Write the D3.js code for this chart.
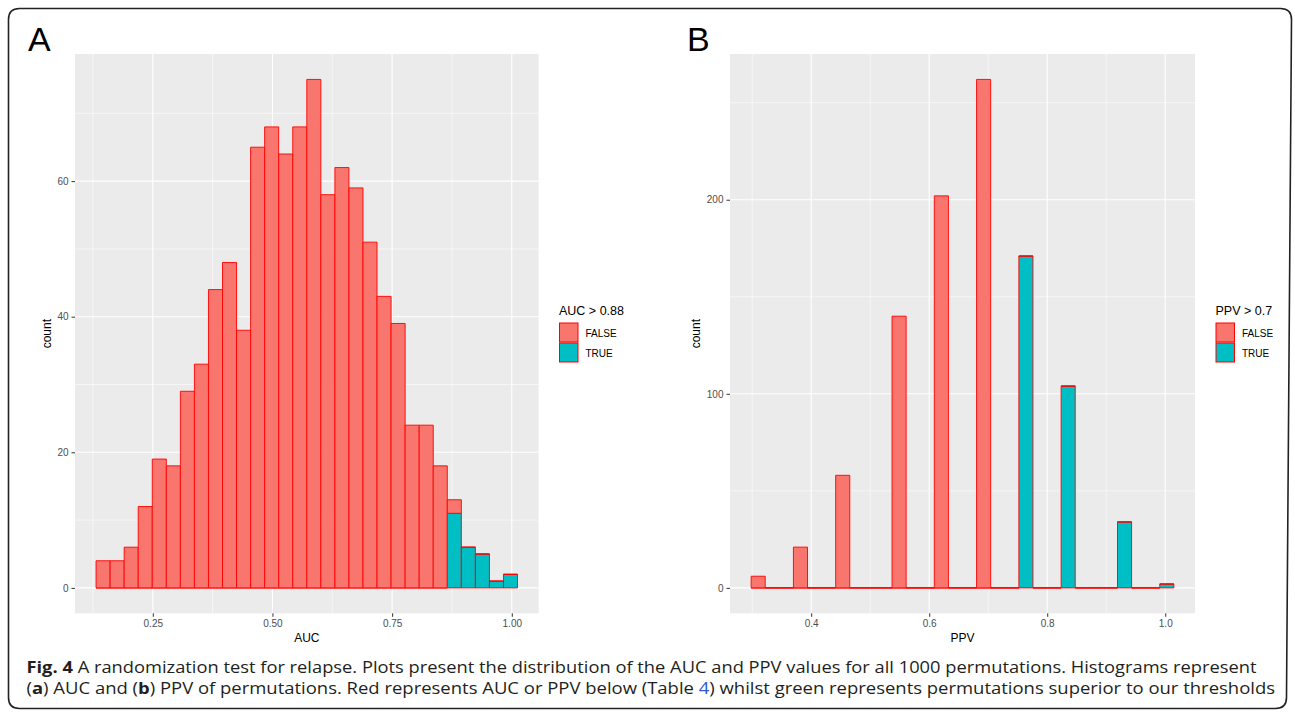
<!DOCTYPE html>
<html><head><meta charset="utf-8">
<script src="https://cdn.jsdelivr.net/npm/d3@7"></script>
<style>
html,body{margin:0;padding:0;background:#fff;}
svg{display:block;}
</style></head>
<body>
<svg id="chart" width="1295" height="713"></svg>
<script>
// ---------- DATA ----------
// Panel A: AUC histogram (30 bins)
const aucBinStart = 0.1315;
const aucBinWidth = 0.02935;
const aucFalse = [4,4,6,12,19,18,29,33,44,48,38,65,68,64,68,75,58,62,59,51,43,39,24,24,18,2,0,0,0,0];
const aucTrue  = [0,0,0,0,0,0,0,0,0,0,0,0,0,0,0,0,0,0,0,0,0,0,0,0,0,11,6,5,1,2];
const aucXTicks = [0.25,0.50,0.75,1.00];
const aucXTickLabels = ["0.25","0.50","0.75","1.00"];
const aucYTicks = [0,20,40,60];

// Panel B: PPV histogram (30 bins)
const ppvBinStart = 0.2982;
const ppvBinWidth = 0.02388;
const ppvFalse = [6,0,0,21,0,0,58,0,0,0,140,0,0,202,0,0,262,0,0,0,0,0,0,0,0,0,0,0,0,0];
const ppvTrue  = [0,0,0,0,0,0,0,0,0,0,0,0,0,0,0,0,0,0,0,171,0,0,104,0,0,0,34,0,0,2];
const ppvXTicks = [0.4,0.6,0.8,1.0];
const ppvXTickLabels = ["0.4","0.6","0.8","1.0"];
const ppvYTicks = [0,100,200];

const legendLevels = ["FALSE","TRUE"];
const captionLine1 = [["Fig. 4", true], [" A randomization test for relapse. Plots present the distribution of the AUC and PPV values for all 1000 permutations. Histograms represent", false]];
const captionLine2 = [["(",false],["a",true],[") AUC and (",false],["b",true],[") PPV of permutations. Red represents AUC or PPV below (Table ",false],["4",false,"link"],[") whilst green represents permutations superior to our thresholds",false]];

// ---------- STYLE ----------
const FILL = {FALSE:"#F8766D", TRUE:"#00BFC4"};
const svg = d3.select("#chart");
const FONT = "'Liberation Sans', Arial, Helvetica, sans-serif";

// outer rounded border (slightly skewed like the scan)
(function(){
  const r = 11, x0=8.5, y0=8.5, x1t=1291.5, x1b=1286.5, y1=708.5;
  const p = d3.path();
  p.moveTo(x0+r,y0); p.lineTo(x1t-r,y0); p.quadraticCurveTo(x1t,y0,x1t,y0+r);
  p.lineTo(x1b,y1-r); p.quadraticCurveTo(x1b,y1,x1b-r,y1);
  p.lineTo(x0+r,y1); p.quadraticCurveTo(x0,y1,x0,y1-r);
  p.lineTo(x0,y0+r); p.quadraticCurveTo(x0,y0,x0+r,y0); p.closePath();
  svg.append("path").attr("d",p.toString()).attr("fill","none").attr("stroke","#222").attr("stroke-width",1.6);
})();

function panel(o){
  const g = svg.append("g");
  const nb = o.falseVals.length;
  const lo = o.binStart, hi = o.binStart + nb*o.binWidth;
  const tot = o.falseVals.map((v,i)=>v+o.trueVals[i]);
  const ymax = d3.max(tot);
  const xs = d3.scaleLinear().domain([lo-(hi-lo)*0.05, hi+(hi-lo)*0.05]).range([o.left,o.right]);
  const ys = d3.scaleLinear().domain([-ymax*0.05, ymax*1.05]).range([o.bottom,o.top]);

  g.append("rect").attr("x",o.left).attr("y",o.top).attr("width",o.right-o.left).attr("height",o.bottom-o.top).attr("fill","#EBEBEB");

  // minor grid
  const xMinor = o.xTicks.slice(0,-1).map((t,i)=>(t+o.xTicks[i+1])/2);
  const step = o.xTicks[1]-o.xTicks[0];
  xMinor.unshift(o.xTicks[0]-step/2); xMinor.push(o.xTicks[o.xTicks.length-1]+step/2);
  const ystep = o.yTicks[1]-o.yTicks[0];
  const yMinor = o.yTicks.map(t=>t+ystep/2);
  const xd = xs.domain(), yd = ys.domain();
  xMinor.filter(v=>v>xd[0]&&v<xd[1]).forEach(v=>{
    g.append("line").attr("x1",xs(v)).attr("x2",xs(v)).attr("y1",o.top).attr("y2",o.bottom).attr("stroke","#fff").attr("stroke-width",0.55);
  });
  yMinor.filter(v=>v>yd[0]&&v<yd[1]).forEach(v=>{
    g.append("line").attr("y1",ys(v)).attr("y2",ys(v)).attr("x1",o.left).attr("x2",o.right).attr("stroke","#fff").attr("stroke-width",0.55);
  });
  o.xTicks.forEach(v=>{
    g.append("line").attr("x1",xs(v)).attr("x2",xs(v)).attr("y1",o.top).attr("y2",o.bottom).attr("stroke","#fff").attr("stroke-width",1.1);
  });
  o.yTicks.forEach(v=>{
    g.append("line").attr("y1",ys(v)).attr("y2",ys(v)).attr("x1",o.left).attr("x2",o.right).attr("stroke","#fff").attr("stroke-width",1.1);
  });

  // bars (stacked: TRUE at bottom, FALSE on top)
  const bars = [];
  for(let i=0;i<nb;i++){
    const x0 = o.binStart + i*o.binWidth, x1 = x0 + o.binWidth;
    bars.push({grp:"TRUE", x0, x1, y0:0, y1:o.trueVals[i]});
    bars.push({grp:"FALSE", x0, x1, y0:o.trueVals[i], y1:o.trueVals[i]+o.falseVals[i]});
  }
  g.selectAll("path.bar").data(bars).join("path").attr("class","bar")
    .attr("d",d=>{
      const a=xs(d.x0), b=xs(d.x1), c=ys(d.y0), e=ys(d.y1);
      return `M${a},${c}H${b}V${e}H${a}Z`;
    })
    .attr("fill",d=>FILL[d.grp]).attr("stroke","#FF0000").attr("stroke-width",1).attr("stroke-opacity",0.9);

  // axes
  const xAxis = d3.axisBottom(xs).tickValues(o.xTicks).tickFormat((d,i)=>o.xTickLabels[i]).tickSize(3.5).tickPadding(3);
  const ax = g.append("g").attr("transform",`translate(0,${o.bottom})`).call(xAxis);
  ax.select(".domain").remove();
  ax.selectAll("line").attr("stroke","#333").attr("stroke-width",1);
  ax.selectAll("text").attr("fill","#4D4D4D").style("font-family",FONT).style("font-size","10px");
  const yAxis = d3.axisLeft(ys).tickValues(o.yTicks).tickSize(3.5).tickPadding(3);
  const ay = g.append("g").attr("transform",`translate(${o.left},0)`).call(yAxis);
  ay.select(".domain").remove();
  ay.selectAll("line").attr("stroke","#333").attr("stroke-width",1);
  ay.selectAll("text").attr("fill","#4D4D4D").style("font-family",FONT).style("font-size","10px");

  // axis titles
  g.append("text").attr("x",(o.left+o.right)/2).attr("y",641.5).attr("text-anchor","middle")
    .style("font-family",FONT).style("font-size","12px").attr("fill","#000").text(o.xTitle);
  g.append("text").attr("transform",`translate(${o.yTitleX},${(o.top+o.bottom)/2}) rotate(-90)`).attr("text-anchor","middle")
    .attr("dy","0.35em").style("font-family",FONT).style("font-size","12px").attr("fill","#000").text("count");

  // panel letter
  g.append("text").attr("x",o.letterX).attr("y",51).style("font-family",FONT).style("font-size","34px").attr("fill","#000").text(o.letter);

  // legend
  g.append("text").attr("x",o.legX).attr("y",314.5).style("font-family",FONT).style("font-size","12.5px").attr("fill","#000").text(o.legTitle);
  legendLevels.forEach((lv,i)=>{
    const ky = 323 + i*20;
    g.append("rect").attr("x",o.legX+0.5).attr("y",ky).attr("width",18.5).attr("height",19)
      .attr("fill",FILL[lv]).attr("stroke","#FF0000").attr("stroke-width",1);
    g.append("text").attr("x",o.legX+26.5).attr("y",ky+14).style("font-family",FONT).style("font-size","10px").attr("fill","#000").text(lv);
  });
}

panel({left:75, right:538.6, top:54, bottom:613.3, binStart:aucBinStart, binWidth:aucBinWidth,
  falseVals:aucFalse, trueVals:aucTrue, xTicks:aucXTicks, xTickLabels:aucXTickLabels, yTicks:aucYTicks,
  xTitle:"AUC", yTitleX:47, letter:"A", letterX:28, legX:559, legTitle:"AUC > 0.88"});
panel({left:730, right:1195, top:54, bottom:613.3, binStart:ppvBinStart, binWidth:ppvBinWidth,
  falseVals:ppvFalse, trueVals:ppvTrue, xTicks:ppvXTicks, xTickLabels:ppvXTickLabels, yTicks:ppvYTicks,
  xTitle:"PPV", yTitleX:696, letter:"B", letterX:687, legX:1215.5, legTitle:"PPV > 0.7"});

// caption
function captionLine(parts, y, width){
  const t = svg.append("text").attr("x",26.5).attr("y",y)
    .style("font-family","'Open Sans', 'Noto Sans', sans-serif").style("font-size","16.5px").attr("fill","#231F20")
    .attr("textLength",width).attr("lengthAdjust","spacingAndGlyphs").attr("xml:space","preserve");
  parts.forEach(p=>{
    t.append("tspan").style("font-weight",p[1]?"700":"400").attr("fill",p[2]==="link"?"#2D5BD0":"#231F20").text(p[0]);
  });
}
captionLine(captionLine1, 672.5, 1230);
captionLine(captionLine2, 693.5, 1248.5);
</script>
</body></html>
